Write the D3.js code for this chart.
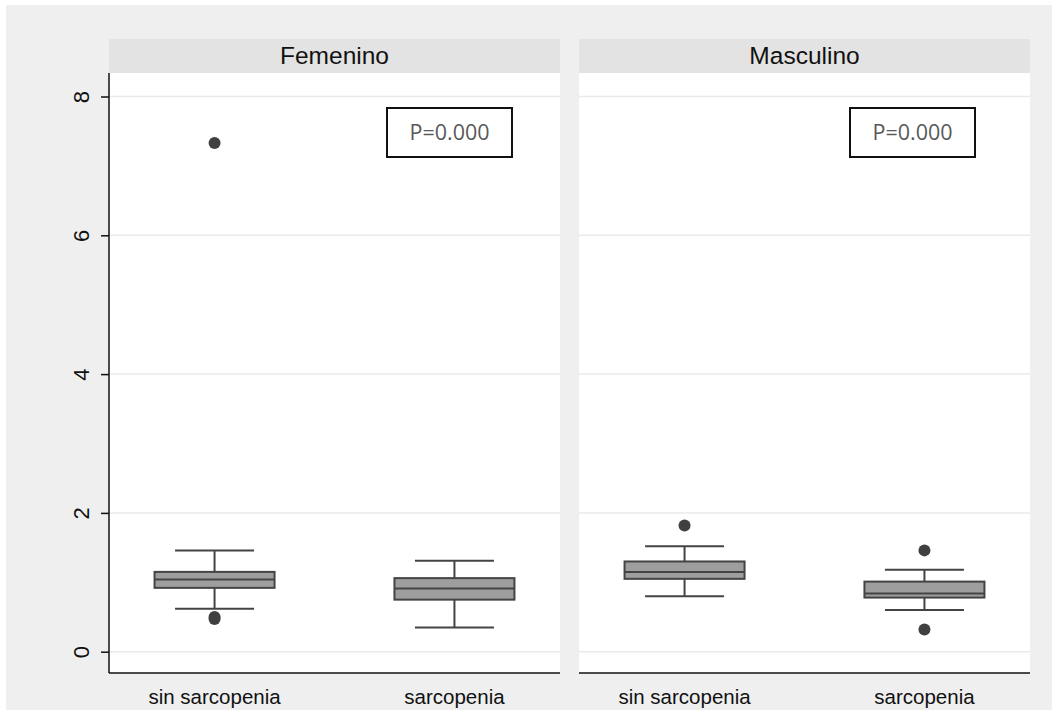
<!DOCTYPE html>
<html>
<head>
<meta charset="utf-8">
<script src="https://cdn.jsdelivr.net/npm/d3@7"></script>
<style>
  body { margin: 0; background: #fff; }
  text { font-family: "Liberation Sans", Arial, sans-serif; }
</style>
</head>
<body>
<div id="chart"></div>
<script>
(function (d3) {
    'use strict';

    // panel names and categories
    var panels = ['Femenino', 'Masculino'];
    var groups = ['sin sarcopenia', 'sarcopenia'];
    var yTicks = [0, 2, 4, 6, 8];
    var pLabels = ['P=0.000', 'P=0.000'];

    // box stats per panel: [lowWhisker, q1, median, q3, highWhisker]
    var femStats = [
        [0.62, 0.92, 1.04, 1.15, 1.46],
        [0.35, 0.75, 0.91, 1.06, 1.31]
    ];
    var mascStats = [
        [0.80, 1.05, 1.15, 1.30, 1.52],
        [0.60, 0.78, 0.84, 1.01, 1.18]
    ];
    // outside values
    var femOutliers = [[7.33, 0.50, 0.47], []];
    var mascOutliers = [[1.82], [1.46, 0.32]];

    var stats = [femStats, mascStats],
        outliers = [femOutliers, mascOutliers];

    var width = 1058, height = 715;

    var svg = d3.select('#chart').append('svg')
        .attr('width', width)
        .attr('height', height);

    // outer gray background
    svg.append('rect')
        .attr('x', 6).attr('y', 5)
        .attr('width', 1046).attr('height', 705)
        .attr('fill', '#efefef');

    var top = 73, bottom = 673,
        panelX = [[109, 560], [579, 1030]],
        pBoxX = [278, 271];

    var y = d3.scaleLinear().domain([0, 8]).range([651.7, 96.5]);

    panels.forEach(function (name, pi) {
        var x0 = panelX[pi][0], x1 = panelX[pi][1];
        var g = svg.append('g');

        // strip header
        g.append('rect')
            .attr('x', x0).attr('y', 39)
            .attr('width', x1 - x0).attr('height', top - 39)
            .attr('fill', '#e3e3e3');
        g.append('text')
            .attr('x', (x0 + x1) / 2).attr('y', 64)
            .attr('text-anchor', 'middle')
            .style('font-size', '24.5px')
            .attr('fill', '#111')
            .text(name);

        // plot area
        g.append('rect')
            .attr('x', x0).attr('y', top)
            .attr('width', x1 - x0).attr('height', bottom - top)
            .attr('fill', '#fff');

        // gridlines
        g.selectAll('.grid')
            .data(yTicks)
            .enter().append('line')
            .attr('x1', x0).attr('x2', x1)
            .attr('y1', function (d) { return y(d); })
            .attr('y2', function (d) { return y(d); })
            .attr('stroke', '#eaeaea')
            .attr('stroke-width', 1.5);

        var x = d3.scaleBand()
            .domain(groups)
            .range([x0, x1])
            .paddingInner(0.06)
            .paddingOuter(-0.03);

        // bottom axis
        var xAxis = g.append('g')
            .attr('transform', 'translate(0,' + bottom + ')')
            .call(d3.axisBottom(x).tickSize(0).tickPadding(16));
        xAxis.select('.domain').attr('stroke', '#111').attr('stroke-width', 1.5)
            .attr('d', 'M' + x0 + ',0H' + x1);
        xAxis.selectAll('text')
            .style('font-size', '20.5px')
            .style('font-family', '"Liberation Sans", Arial, sans-serif')
            .attr('fill', '#111');

        // left axis only on the first panel
        if (pi === 0) {
            var yAxis = g.append('g')
                .attr('transform', 'translate(' + x0 + ',0)')
                .call(d3.axisLeft(y).tickValues(yTicks).tickSize(8).tickPadding(6));
            yAxis.select('.domain').attr('stroke', '#111').attr('stroke-width', 1.5)
                .attr('d', 'M0,' + top + 'V' + bottom);
            yAxis.selectAll('.tick line').attr('stroke', '#111').attr('stroke-width', 1.5);
            yAxis.selectAll('.tick text')
                .style('font-size', '22px')
                .style('font-family', '"Liberation Sans", Arial, sans-serif')
                .attr('fill', '#111')
                .attr('text-anchor', 'middle')
                .attr('x', 0).attr('dy', 0)
                .attr('transform', 'translate(-26,0) rotate(-90)')
                .attr('dominant-baseline', 'middle');
        }

        var boxW = 120, whiskW = 79;

        groups.forEach(function (grp, gi) {
            var s = stats[pi][gi],
                cx = x(grp) + x.bandwidth() / 2;
            var bg = g.append('g');

            // whisker stems
            bg.append('line')
                .attr('x1', cx).attr('x2', cx)
                .attr('y1', y(s[0])).attr('y2', y(s[1]))
                .attr('stroke', '#444').attr('stroke-width', 2);
            bg.append('line')
                .attr('x1', cx).attr('x2', cx)
                .attr('y1', y(s[3])).attr('y2', y(s[4]))
                .attr('stroke', '#444').attr('stroke-width', 2);
            // whisker caps
            [s[0], s[4]].forEach(function (v) {
                bg.append('line')
                    .attr('x1', cx - whiskW / 2).attr('x2', cx + whiskW / 2)
                    .attr('y1', y(v)).attr('y2', y(v))
                    .attr('stroke', '#444').attr('stroke-width', 2);
            });
            // box
            bg.append('rect')
                .attr('x', cx - boxW / 2)
                .attr('y', y(s[3]))
                .attr('width', boxW)
                .attr('height', y(s[1]) - y(s[3]))
                .attr('fill', '#9e9e9e')
                .attr('stroke', '#444').attr('stroke-width', 2);
            // median
            bg.append('line')
                .attr('x1', cx - boxW / 2).attr('x2', cx + boxW / 2)
                .attr('y1', y(s[2])).attr('y2', y(s[2]))
                .attr('stroke', '#444').attr('stroke-width', 2);

            bg.selectAll('circle')
                .data(outliers[pi][gi])
                .enter().append('circle')
                .attr('cx', cx)
                .attr('cy', function (d) { return y(d); })
                .attr('r', 6)
                .attr('fill', '#404040');
        });

        // p-value box
        var bx = x0 + pBoxX[pi], by = 108;
        g.append('rect')
            .attr('x', bx).attr('y', by)
            .attr('width', 125).attr('height', 49)
            .attr('fill', '#fff')
            .attr('stroke', '#111').attr('stroke-width', 2);
        g.append('text')
            .attr('x', bx + 62.5).attr('y', by + 26)
            .attr('text-anchor', 'middle')
            .attr('dominant-baseline', 'middle')
            .style('font-size', '21.5px')
            .attr('fill', '#595959')
            .style('font-family', '"Open Sans", "Noto Sans", sans-serif')
            .text(pLabels[pi]);
    });

})(d3);
</script>
</body>
</html>
